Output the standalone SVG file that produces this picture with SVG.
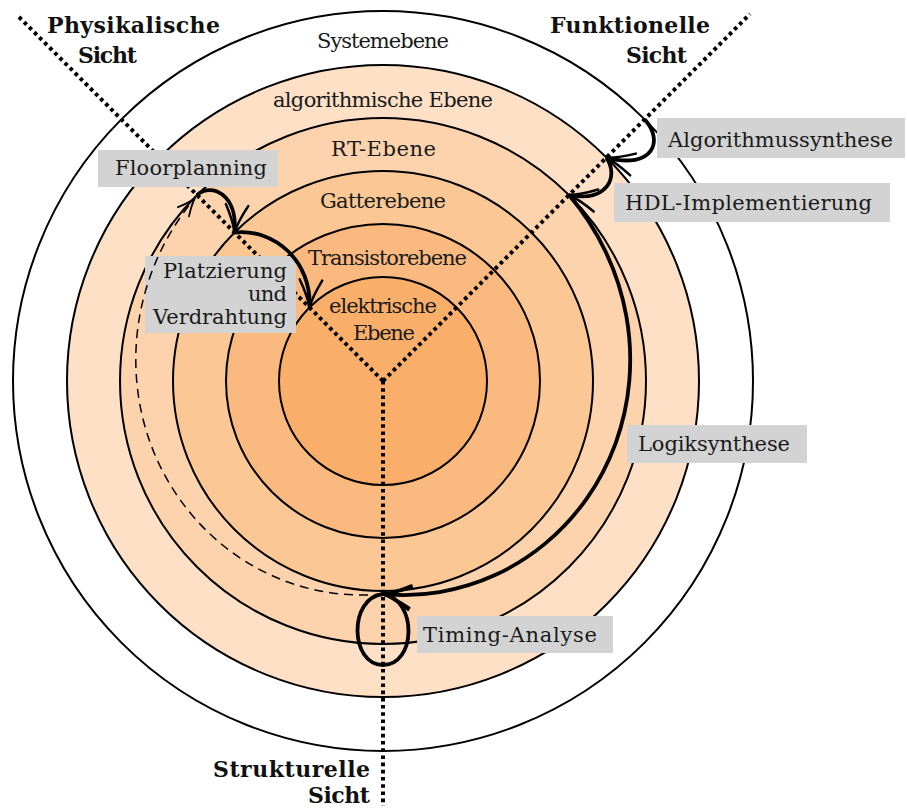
<svg xmlns="http://www.w3.org/2000/svg" width="907" height="812" viewBox="0 0 907 812">
  <style>
    .ring { stroke: #000; stroke-width: 2; }
    .view { fill: none; stroke: #000; stroke-width: 4; stroke-dasharray: 3.6 3.6; }
    .flow { fill: none; stroke: #000; stroke-width: 3.8; marker-end: url(#tip); }
    .dash { fill: none; stroke: #000; stroke-width: 1.5; stroke-dasharray: 9 6; marker-end: url(#tipthin); }
    .box { fill: #d3d3d3; }
    .lbl { font-family: "DejaVu Serif", "Liberation Serif", serif; font-size: 21px; fill: #1a1a1a; }
    .hd { font-family: "DejaVu Serif", "Liberation Serif", serif; font-size: 22px; font-weight: bold; fill: #111; }
  </style>
  <defs>
    <marker id="tip" markerUnits="userSpaceOnUse" markerWidth="40" markerHeight="30" viewBox="-26 -12 30 24" refX="0" refY="0" orient="auto" overflow="visible">
      <path d="M -22,-9 Q -9,-2 0,0 Q -9,2 -22,9" fill="none" stroke="#000" stroke-width="2" stroke-linecap="round"/>
    </marker>
    <marker id="tipthin" markerUnits="userSpaceOnUse" markerWidth="30" markerHeight="24" viewBox="-20 -10 24 20" refX="0" refY="0" orient="auto" overflow="visible">
      <path d="M -15,-6 Q -6,-1.2 0,0 Q -6,1.2 -15,6" fill="none" stroke="#000" stroke-width="1.5" stroke-linecap="round"/>
    </marker>
  </defs>

  <rect width="907" height="812" fill="#fff"/>

  <!-- abstraction levels as concentric rings -->
  <g id="levels">
    <circle class="ring" cx="383" cy="381" r="370" fill="#ffffff"/>
    <circle class="ring" cx="383" cy="381" r="316" fill="#fde0c5"/>
    <circle class="ring" cx="383" cy="381" r="263" fill="#fcd3ac"/>
    <circle class="ring" cx="383" cy="381" r="210" fill="#fbc795"/>
    <circle class="ring" cx="383" cy="381" r="157" fill="#fab97f"/>
    <circle class="ring" cx="383" cy="381" r="104" fill="#f9ae6a"/>
  </g>

  <!-- the three view axes -->
  <g id="axes">
    <line class="view" x1="383" y1="381" x2="17" y2="15"/>
    <line class="view" x1="383" y1="381" x2="750" y2="14"/>
    <line class="view" x1="383" y1="381" x2="383" y2="806"/>
  </g>

  <!-- label boxes -->
  <g id="boxes">
    <rect id="box-algo" class="box" x="657" y="118" width="248" height="40"/>
    <rect id="box-hdl" class="box" x="614" y="183" width="276" height="39"/>
    <rect id="box-floor" class="box" x="98" y="150" width="180" height="37"/>
    <rect id="box-place" class="box" x="145" y="256" width="151" height="77"/>
    <rect id="box-timing" class="box" x="417" y="616" width="196" height="37"/>
    <rect id="box-logic" class="box" x="627" y="425" width="180" height="38"/>
  </g>

  <!-- design flow -->
  <g id="connectors">
    <path class="flow" d="M644.6,119.4 C664,140 654,170 606.4,157.6"/>
    <path class="flow" d="M606.4,157.6 C619,176 608,203 569,195"/>
    <path class="flow" d="M569,195 A260 260 0 0 1 605.9,252.3 A255 255 0 0 1 626.3,315.8 A249 249 0 0 1 629.3,381 A244 244 0 0 1 615.6,443.3 A238 238 0 0 1 586.7,498.6 A232 232 0 0 1 545.4,543.4 A227 227 0 0 1 495.1,575.1 A221 221 0 0 1 439.6,592.1 A216 216 0 0 1 383,594"/>
    <path class="flow" d="M383,594 C348,598 350,665 383,665 C416,665 418,600 383,594"/>
    <path class="dash" d="M383,594 A216 216 0 0 1 326.4,592.1 A221 221 0 0 1 270.9,575.1 A227 227 0 0 1 220.6,543.4 A232 232 0 0 1 179.3,498.6 A238 238 0 0 1 150.4,443.3 A244 244 0 0 1 136.7,381 A249 249 0 0 1 139.7,315.8 A255 255 0 0 1 160.1,252.3 A260 260 0 0 1 195,198"/>
    <path class="flow" d="M197,195 C212,182 238,195 234.5,232.5"/>
    <path class="flow" d="M234.5,232.5 C275,228 312,262 309.5,307.5"/>
  </g>

  <!-- level names -->
  <g id="level-names">
    <text class="lbl" x="317" y="48" textLength="132">Systemebene</text>
    <text class="lbl" x="273" y="107" textLength="220">algorithmische Ebene</text>
    <text class="lbl" x="331" y="156" textLength="105">RT-Ebene</text>
    <text class="lbl" x="320" y="208" textLength="126">Gatterebene</text>
    <text class="lbl" x="308" y="265" textLength="159">Transistorebene</text>
    <text class="lbl" x="329" y="313" textLength="108">elektrische</text>
    <text class="lbl" x="353" y="340" textLength="62">Ebene</text>
  </g>

  <!-- step names -->
  <g id="step-names">
    <text class="lbl" x="668" y="147" textLength="225">Algorithmussynthese</text>
    <text class="lbl" x="625" y="210" textLength="247">HDL-Implementierung</text>
    <text class="lbl" x="115" y="175" textLength="152">Floorplanning</text>
    <text class="lbl" x="163" y="278" textLength="124">Platzierung</text>
    <text class="lbl" x="248" y="301" textLength="39">und</text>
    <text class="lbl" x="153" y="324" textLength="134">Verdrahtung</text>
    <text class="lbl" x="423" y="642" textLength="174">Timing-Analyse</text>
    <text class="lbl" x="638" y="451" textLength="152">Logiksynthese</text>
  </g>

  <!-- view names -->
  <g id="view-names">
    <text class="hd" x="47" y="33" textLength="173">Physikalische</text>
    <text class="hd" x="78" y="63" textLength="59">Sicht</text>
    <text class="hd" x="550" y="33" textLength="160">Funktionelle</text>
    <text class="hd" x="626" y="63" textLength="61">Sicht</text>
    <text class="hd" x="213" y="777" textLength="157">Strukturelle</text>
    <text class="hd" x="308" y="803" textLength="62">Sicht</text>
  </g>
</svg>
